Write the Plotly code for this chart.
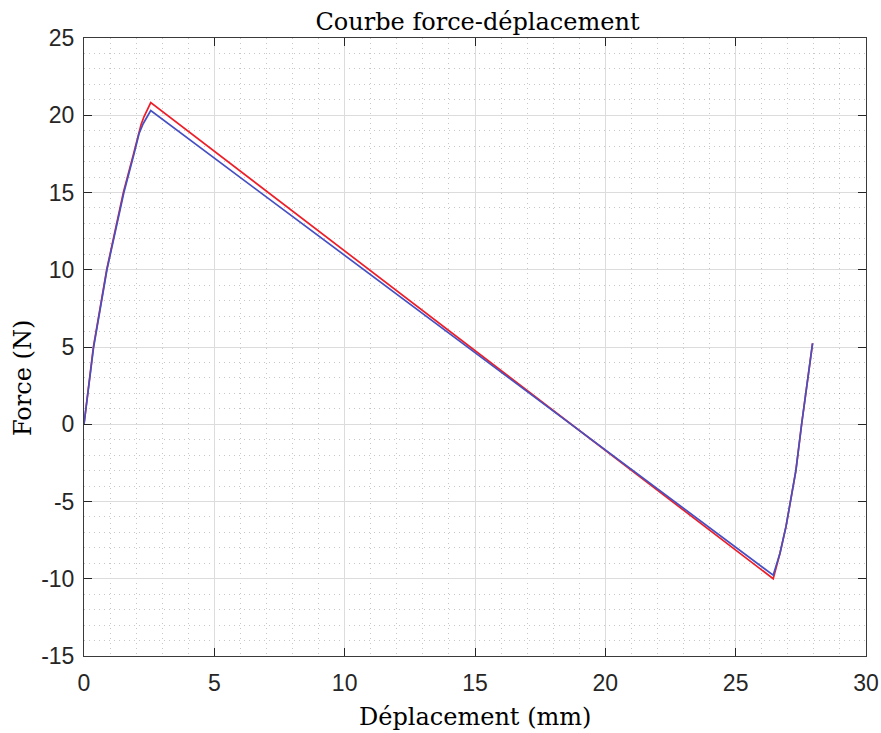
import plotly.graph_objects as go

# Red curve
x_red = [0, 0.36, 0.87, 1.51, 1.90, 2.08, 2.19, 2.30, 2.43, 2.56,
         26.44, 26.70, 26.93, 27.11, 27.31, 27.53, 27.74, 27.95]
y_red = [0, 5, 10, 15, 17.5, 18.8, 19.4, 19.9, 20.4, 20.82,
         -10.0, -8.35, -6.63, -5.0, -3.0, 0, 2.65, 5.24]

# Blue curve
x_blue = [0, 0.37, 0.88, 1.53, 1.92, 2.11, 2.27, 2.43, 2.56,
          26.44, 26.70, 26.93, 27.11, 27.31, 27.53, 27.74, 27.95]
y_blue = [0, 5, 10, 15, 17.5, 18.8, 19.45, 19.9, 20.3,
          -9.77, -8.35, -6.63, -5.0, -3.0, 0, 2.65, 5.24]

x_ticks = [0, 5, 10, 15, 20, 25, 30]
x_labels = ["0", "5", "10", "15", "20", "25", "30"]
y_ticks = [-15, -10, -5, 0, 5, 10, 15, 20, 25]
y_labels = ["-15", "-10", "-5", "0", "5", "10", "15", "20", "25"]

fig = go.Figure()
fig.add_trace(go.Scatter(x=x_red, y=y_red, mode="lines",
                         line=dict(color="rgb(238,30,40)", width=1.7),
                         showlegend=False))
fig.add_trace(go.Scatter(x=x_blue, y=y_blue, mode="lines",
                         line=dict(color="rgb(70,80,195)", width=1.7),
                         showlegend=False))

axis_common = dict(
    showline=True, linecolor="#3a3a3a", linewidth=1, mirror="ticks",
    ticks="inside", ticklen=8, tickcolor="#262626", tickwidth=1,
    showgrid=True, gridcolor="#dcdcdc", gridwidth=1,
    zeroline=False, automargin=False,
    tickfont=dict(family="Liberation Sans, Arial", size=23, color="#262626"),
    minor=dict(showgrid=True, gridcolor="rgba(0,0,0,0.22)", griddash="1px,4px",
               gridwidth=1, dtick=1, ticks=""),
)

fig.update_xaxes(range=[0, 30], tickvals=x_ticks, ticktext=x_labels,
                 ticklabelstandoff=6, **axis_common)
fig.update_yaxes(range=[-15, 25], tickvals=y_ticks, ticktext=y_labels,
                 ticklabelstandoff=4, **axis_common)

W, H = 881, 733
serif = dict(family="DejaVu Serif", size=24, color="black")
fig.update_layout(
    width=W, height=H,
    margin=dict(l=84, r=15, t=38, b=77),
    paper_bgcolor="white", plot_bgcolor="white",
    title=dict(text="Courbe force-déplacement", x=477.5 / W, xanchor="center",
               y=1 - 22 / H, yanchor="middle", font=serif),
    annotations=[
        dict(text="Déplacement (mm)", xref="paper", yref="paper",
             x=0.5, y=-(717 - 656) / 618, xanchor="center", yanchor="middle",
             showarrow=False, font=serif),
        dict(text="Force (N)", xref="paper", yref="paper",
             x=-(84 - 23) / 782, y=(656 - 378) / 618, xanchor="center",
             yanchor="middle", textangle=-90, showarrow=False, font=serif),
    ],
)

fig.write_html("out.html",
               config={"displayModeBar": False},
               post_script="document.body.style.margin='0';"
                           "document.body.style.overflow='hidden';")
